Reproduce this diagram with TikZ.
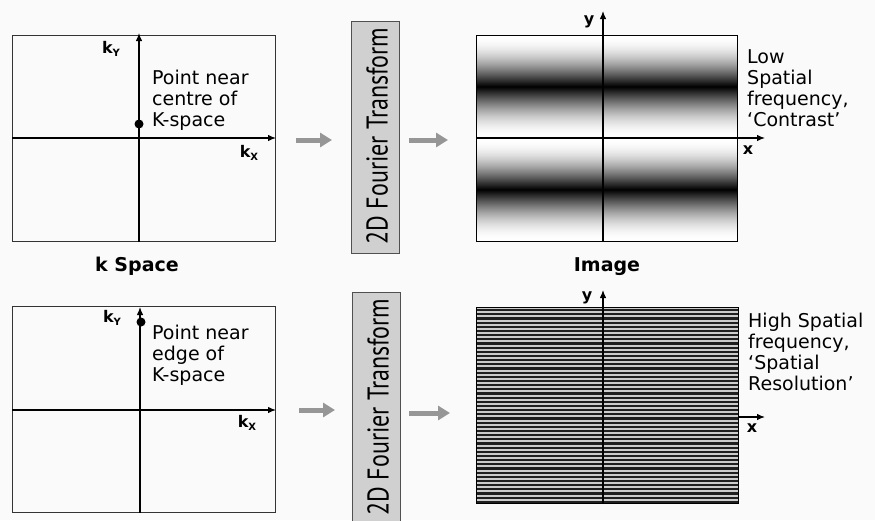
\documentclass[tikz,border=0pt]{standalone}
\usepackage{fontspec}
\setmainfont{DejaVu Sans}
\newfontfamily\ftfont{PT Sans}
\usetikzlibrary{arrows.meta}
\definecolor{paper}{RGB}{250,250,250}
\definecolor{ftfill}{RGB}{208,208,208}
\definecolor{ftline}{RGB}{80,80,80}
\definecolor{flowgray}{RGB}{150,150,150}
\newcommand{\ksub}[1]{k{\fontsize{10}{10}\selectfont\raisebox{-3.5pt}{#1}}}
\begin{document}
\begin{tikzpicture}[x=1pt,y=-1pt,
  panel/.style={draw=black!80, line width=1pt, inner sep=0pt, anchor=north west},
  ftbox/.style={draw=ftline, fill=ftfill, line width=1pt, inner sep=0pt, anchor=north west},
  ftlabel/.style={rotate=90, inner sep=0pt, font=\ftfont\fontsize{30}{30}\selectfont},
  axis/.style={line width=1.2pt, -{Latex[length=8pt,width=6.5pt]}},
  flow/.style={draw=flowgray, line width=5pt, -{Triangle[length=12pt,width=14pt]}},
  note/.style={align=left, inner sep=0pt, anchor=north west, font=\fontsize{19}{21}\selectfont},
  caption/.style={inner sep=0pt, font=\bfseries\fontsize{19}{21}\selectfont},
  axlabel/.style={inner sep=0pt, font=\bfseries\fontsize{16}{16}\selectfont},
  xylabel/.style={inner sep=0pt, font=\bfseries\fontsize{16}{16}\selectfont}]
\path[use as bounding box, clip] (0,0) rectangle (875,520);
\fill[paper] (0,0) rectangle (875,520);

% ---------- k-space panels ----------
\node[panel, minimum width=263pt, minimum height=206pt] (ks1) at (12,35) {};
\node[panel, minimum width=263pt, minimum height=206pt] (ks2) at (12,306) {};
\coordinate (ks1o) at (139,138);
\coordinate (ks2o) at (140,410);
\draw[axis] (ks1o |- ks1.south) -- (139,33);
\draw[axis] (ks1.west |- ks1o) -- (ks1.east |- ks1o);
\draw[axis] (ks2o |- ks2.south) -- (140,307);
\draw[axis] (ks2.west |- ks2o) -- (ks2.east |- ks2o);
\fill (139,124) circle (4.5pt);
\fill (141,322) circle (4.5pt);
\node[axlabel] (ky1) at (111,49) {\ksub{Y}};
\node[axlabel] (kx1) at (249,153) {\ksub{X}};
\node[axlabel] (ky2) at (112,318) {\ksub{Y}};
\node[axlabel] (kx2) at (247,423) {\ksub{X}};
\node[note] (ks1note) at (152,70) {Point near\\centre of\\K-space};
\node[note] (ks2note) at (152,325) {Point near\\edge of\\K-space};
\node[caption] (kscap) at (137,266) {k Space};

% ---------- Fourier transform blocks ----------
\node[ftbox, minimum width=48pt, minimum height=232pt] (ft1) at (351,21) {};
\node[ftbox, minimum width=48pt, minimum height=232pt] (ft2) at (352,292) {};
\node[ftlabel] (ft1label) at (377,136) {\scalebox{0.8}[1]{2D Fourier Transform}};
\node[ftlabel] (ft2label) at (378,407) {\scalebox{0.8}[1]{2D Fourier Transform}};

% ---------- image panels ----------
% low spatial frequency: smooth bands
\foreach \i in {0,...,205}{
  \pgfmathsetmacro\t{abs(mod(\i,103)-51.5)/51.5}
  \pgfmathsetmacro\g{100*(1-sin(90*\t))}
  \fill[black!\g] (476,35+\i) rectangle (737,36.4+\i);
}
% high spatial frequency: fine stripes
\fill[black!20] (476,307) rectangle (738,503);
\foreach \j in {0,...,46}{
  \fill[black!88] (476,307+4.17*\j+2.0) rectangle (738,307+4.17*\j+4.17);
}
\node[panel, draw=black, minimum width=261pt, minimum height=206pt] (im1) at (476,35) {};
\node[panel, draw=black, minimum width=262pt, minimum height=196pt] (im2) at (476,307) {};
\coordinate (im1o) at (603,138);
\coordinate (im2o) at (603,417);
\draw[axis] (im1o |- im1.south) -- (603,11);
\draw[axis] (im1.west |- im1o) -- (765,138);
\draw[axis] (im2o |- im2.south) -- (603,290);
\draw[axis] (im2.east |- im2o) -- (765,417);
\node[xylabel] (y1) at (589,22) {y};
\node[xylabel] (x1) at (748,150) {x};
\node[xylabel] (y2) at (587,298) {y};
\node[xylabel] (x2) at (752,428) {x};
\node[note] (im1note) at (747,49) {Low\\Spatial\\frequency,\\‘Contrast’};
\node[note] (im2note) at (748,313) {High Spatial\\frequency,\\‘Spatial\\Resolution’};
\node[caption] (imcap) at (607,267) {Image};

% ---------- flow arrows ----------
\coordinate (r1) at (0,140);
\coordinate (r2) at (0,410);
\coordinate (r3) at (0,413);
\draw[flow, shorten <=20pt, shorten >=19pt] (ks1.east |- r1) -- (ft1.west |- r1);
\draw[flow, shorten <=9pt, shorten >=28pt] (ft1.east |- r1) -- (im1.west |- r1);
\draw[flow, shorten <=23pt, shorten >=17pt] (ks2.east |- r2) -- (ft2.west |- r2);
\draw[flow, shorten <=8pt, shorten >=26pt] (ft2.east |- r3) -- (im2.west |- r3);
\end{tikzpicture}
\end{document}
